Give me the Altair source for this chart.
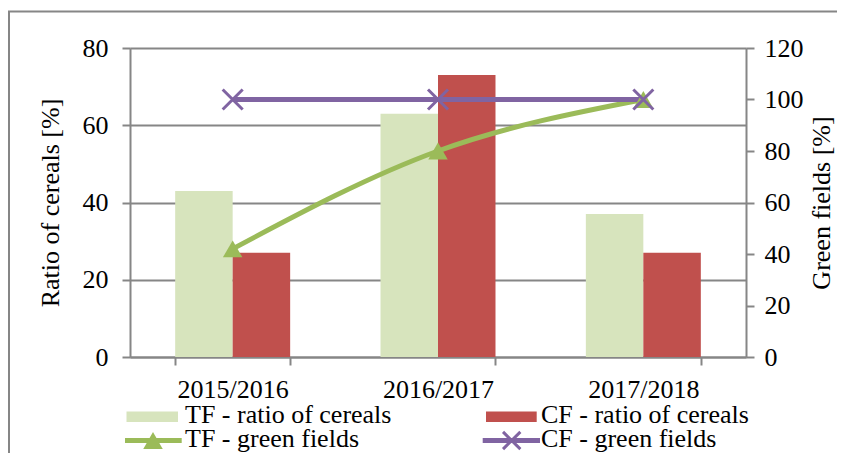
import altair as alt
import pandas as pd

# ---- data ----
seasons = ["2015/2016", "2016/2017", "2017/2018"]
tf_cereals = [43, 63, 37]
cf_cereals = [27, 73, 27]
tf_green = [42, 80, 100]
cf_green = [100, 100, 100]
series_names = ["TF - ratio of cereals", "CF - ratio of cereals",
                "TF - green fields", "CF - green fields"]
left_ticks = [0, 20, 40, 60, 80]
right_ticks = [0, 20, 40, 60, 80, 100, 120]

FONT = "Liberation Serif"
FS = 26
GRAY = "#868686"
C_TF_BAR = "#D7E4BD"
C_CF_BAR = "#C0504D"
C_TF_LINE = "#9BBB59"
C_CF_LINE = "#8064A2"
X_PATH = "M-1,-1L1,1M-1,1L1,-1"

bars_df = pd.DataFrame({
    "season": seasons * 2,
    "series": [series_names[0]] * 3 + [series_names[1]] * 3,
    "value": tf_cereals + cf_cereals,
})
tf_df = pd.DataFrame({"season": seasons, "value": tf_green})
cf_df = pd.DataFrame({"season": seasons, "value": cf_green})

x_enc = alt.X(
    "season:N", sort=seasons,
    scale=alt.Scale(paddingInner=0.44, paddingOuter=0.22),
    axis=alt.Axis(title=None, labelAngle=0, tickBand="extent",
                  domainColor=GRAY, domainWidth=2, tickColor=GRAY, tickWidth=2,
                  tickSize=8, labelPadding=11, labelFont=FONT, labelFontSize=FS,
                  labelColor="black", grid=False),
)

bars = alt.Chart(bars_df).mark_bar().encode(
    x=x_enc,
    xOffset=alt.XOffset("series:N", sort=series_names[:2],
                        scale=alt.Scale(paddingInner=0, paddingOuter=0)),
    y=alt.Y("value:Q", scale=alt.Scale(domain=[0, 80], nice=False),
            axis=alt.Axis(values=left_ticks, title="Ratio of cereals [%]",
                          grid=True, gridColor=GRAY, gridWidth=2,
                          domainColor=GRAY, domainWidth=2, tickColor=GRAY,
                          tickWidth=2, tickSize=8, labelPadding=14,
                          labelFont=FONT, labelFontSize=FS, labelColor="black",
                          titleFont=FONT, titleFontSize=FS, titleFontWeight="normal",
                          titleColor="black", titlePadding=19)),
    color=alt.Color("series:N",
                    scale=alt.Scale(domain=series_names[:2], range=[C_TF_BAR, C_CF_BAR]),
                    legend=None),
)

y_right = alt.Y("value:Q", scale=alt.Scale(domain=[0, 120], nice=False),
                axis=alt.Axis(orient="right", values=right_ticks, title="Green fields [%]",
                              grid=False, domainColor=GRAY, domainWidth=2,
                              tickColor=GRAY, tickWidth=2, tickSize=8, labelPadding=10,
                              labelFont=FONT, labelFontSize=FS, labelColor="black",
                              titleFont=FONT, titleFontSize=FS, titleFontWeight="normal",
                              titleColor="black", titlePadding=5, titleAngle=-90,
                              titleBaseline="top"))

tf_line = alt.Chart(tf_df).mark_line(color=C_TF_LINE, strokeWidth=5,
                                     interpolate="monotone").encode(
    x=alt.X("season:N", sort=seasons), y=y_right)
tf_pts = alt.Chart(tf_df).mark_point(shape="triangle-up", filled=True, size=380,
                                     color=C_TF_LINE, opacity=1).encode(
    x=alt.X("season:N", sort=seasons), y=alt.Y("value:Q"))
cf_line = alt.Chart(cf_df).mark_line(color=C_CF_LINE, strokeWidth=5).encode(
    x=alt.X("season:N", sort=seasons), y=alt.Y("value:Q"))
cf_pts = alt.Chart(cf_df).mark_point(shape=X_PATH, filled=False, size=400,
                                     color=C_CF_LINE, strokeWidth=3, opacity=1).encode(
    x=alt.X("season:N", sort=seasons), y=alt.Y("value:Q"))

lines = alt.layer(tf_line, cf_line, tf_pts, cf_pts)

# ---- manual legend ----
one = pd.DataFrame({"a": [0]})
leg = []
leg.append(alt.Chart(one).mark_rect(color=C_TF_BAR).encode(
    x=alt.value(-3.5), x2=alt.value(48), y=alt.value(363.5), y2=alt.value(374)))
leg.append(alt.Chart(one).mark_rect(color=C_CF_BAR).encode(
    x=alt.value(356), x2=alt.value(406.7), y=alt.value(363.5), y2=alt.value(374)))
leg.append(alt.Chart(one).mark_rule(color=C_TF_LINE, strokeWidth=5).encode(
    x=alt.value(-5), x2=alt.value(51.7), y=alt.value(392.5)))
leg.append(alt.Chart(one).mark_point(shape="triangle-up", filled=True, size=380,
                                     color=C_TF_LINE, opacity=1).encode(
    x=alt.value(23), y=alt.value(392.5)))
leg.append(alt.Chart(one).mark_rule(color=C_CF_LINE, strokeWidth=5).encode(
    x=alt.value(352.7), x2=alt.value(410), y=alt.value(392.5)))
leg.append(alt.Chart(one).mark_point(shape=X_PATH, filled=False, size=300,
                                     color=C_CF_LINE, strokeWidth=3, opacity=1).encode(
    x=alt.value(381.7), y=alt.value(392.5)))
text_pos = [(55, 375), (411, 375), (55, 398.5), (411, 398.5)]
for name, (tx, ty) in zip(series_names, text_pos):
    leg.append(alt.Chart(pd.DataFrame({"t": [name]})).mark_text(
        align="left", baseline="alphabetic", font=FONT, fontSize=FS, color="black"
    ).encode(x=alt.value(tx), y=alt.value(ty), text="t:N"))

frame = alt.Chart(one).mark_rect(fill="transparent", stroke=GRAY, strokeWidth=2).encode(
    x=alt.value(-121), x2=alt.value(720), y=alt.value(-36.5), y2=alt.value(430))

chart = alt.layer(
    frame, bars, lines, *leg
).resolve_scale(y="independent").properties(
    width=616, height=309,
    padding={"left": 122, "top": 40, "right": 91, "bottom": 96},
    autosize=alt.AutoSizeParams(type="none"),
).configure_view(stroke=None).configure(background="white")

chart.save("out.html", embed_options={"renderer": "svg", "actions": False})
